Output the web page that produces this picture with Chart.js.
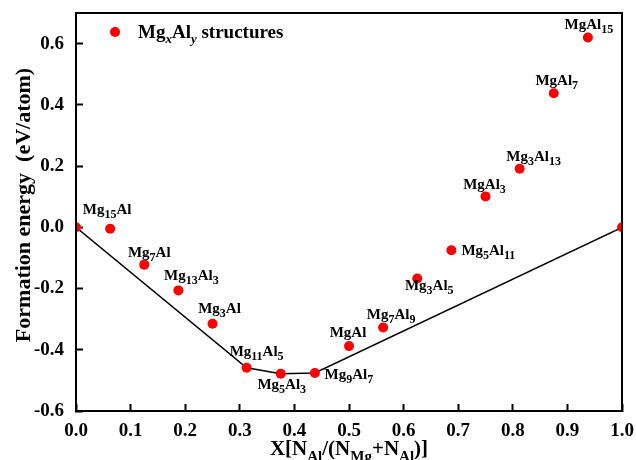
<!DOCTYPE html>
<html>
<head>
<meta charset="utf-8">
<script src="https://cdn.jsdelivr.net/npm/chart.js@4.4.1/dist/chart.umd.min.js"></script>
<style>
  body { margin: 0; background: #fff; }
</style>
</head>
<body>
<canvas id="chart" width="636" height="460"></canvas>
<script>
// Al fraction of each Mg-Al structure and its formation energy (eV/atom)
const fractionAl = [0, 0.0625, 0.125, 0.1875, 0.25, 0.3125, 0.375, 0.4375, 0.5,
  0.5625, 0.625, 0.6875, 0.75, 0.8125, 0.875, 0.9375, 1.0];
const formationEnergy = [0, -0.005, -0.122, -0.206, -0.315, -0.459, -0.478, -0.476, -0.388,
  -0.327, -0.167, -0.075, 0.101, 0.191, 0.438, 0.620, 0];
const structureNames = ['', 'Mg_{15}Al', 'Mg_{7}Al', 'Mg_{13}Al_{3}', 'Mg_{3}Al', 'Mg_{11}Al_{5}',
  'Mg_{5}Al_{3}', 'Mg_{9}Al_{7}', 'MgAl', 'Mg_{7}Al_{9}', 'Mg_{3}Al_{5}', 'Mg_{5}Al_{11}',
  'MgAl_{3}', 'Mg_{3}Al_{13}', 'MgAl_{7}', 'MgAl_{15}', ''];

// convex hull
const hullX = [0, 0.3125, 0.375, 0.4375, 1.0];
const hullE = [0, -0.459, -0.478, -0.476, 0];

const xTickValues = [0, 0.1, 0.2, 0.3, 0.4, 0.5, 0.6, 0.7, 0.8, 0.9, 1.0];
const yTickValues = [-0.6, -0.4, -0.2, 0, 0.2, 0.4, 0.6];

// label offsets from each point (px): [dx of label centre, dy of baseline]
const labelOffsets = [[0, 0], [-3, -15], [5, -8], [13, -10], [7, -11], [10, -12],
  [1, 15], [34, 6], [-1, -9], [8, -8], [12, 12], [37, 5],
  [-1, -7], [14, -8], [3, -8], [1, -8], [0, 0]];

const FONT = '"Liberation Serif", "Times New Roman", serif';

function splitRich(str) {
  const out = [];
  const re = /_\{([^}]*)\}/g;
  let last = 0, m;
  while ((m = re.exec(str))) {
    if (m.index > last) out.push({ t: str.slice(last, m.index), sub: false });
    out.push({ t: m[1], sub: true });
    last = re.lastIndex;
  }
  if (last < str.length) out.push({ t: str.slice(last), sub: false });
  return out;
}
function richFont(p, size, subSize, subItalic) {
  return (p.sub && subItalic ? 'italic ' : '') + 'bold ' + (p.sub ? subSize : size) + 'px ' + FONT;
}
// draws text like "Mg_{15}Al" with subscripts
function drawRich(ctx, str, x, y, size, subSize, subShift, align, subItalic) {
  const parts = splitRich(str);
  let w = 0;
  parts.forEach(p => { ctx.font = richFont(p, size, subSize, subItalic); w += ctx.measureText(p.t).width; });
  let cx = align === 'center' ? x - w / 2 : x;
  ctx.textAlign = 'left';
  ctx.textBaseline = 'alphabetic';
  parts.forEach(p => {
    ctx.font = richFont(p, size, subSize, subItalic);
    ctx.fillText(p.t, cx, p.sub ? y + subShift : y);
    cx += ctx.measureText(p.t).width;
  });
}

// point labels, legend and axis titles
const annotations = {
  id: 'annotations',
  afterDraw(chart) {
    const ctx = chart.ctx;
    const a = chart.chartArea;
    const xs = chart.scales.x, ys = chart.scales.y;
    ctx.save();
    ctx.fillStyle = '#000';
    fractionAl.forEach((fx, i) => {
      if (!structureNames[i]) return;
      const px = xs.getPixelForValue(fx) + labelOffsets[i][0];
      const py = ys.getPixelForValue(formationEnergy[i]) + labelOffsets[i][1];
      drawRich(ctx, structureNames[i], px, py, 15, 12, 4, 'center', false);
    });

    ctx.fillStyle = '#ff0000';
    ctx.beginPath();
    ctx.arc(115, 32, 5, 0, Math.PI * 2);
    ctx.fill();
    ctx.fillStyle = '#000';
    drawRich(ctx, 'Mg_{x}Al_{y} structures', 138, 38, 19, 13, 5, 'left', true);

    drawRich(ctx, 'X[N_{Al}/(N_{Mg}+N_{Al})]', (a.left + a.right) / 2, 455, 21, 15, 6, 'center', false);
    ctx.translate(30, 205);
    ctx.rotate(-Math.PI / 2);
    ctx.font = 'bold 22px ' + FONT;
    ctx.textAlign = 'center';
    ctx.textBaseline = 'alphabetic';
    ctx.fillText('Formation energy  (eV/atom)', 0, 0);
    ctx.restore();

    // box round the plot
    const L = Math.round(a.left), R = Math.round(a.right);
    const T = Math.round(a.top), B = Math.round(a.bottom);
    ctx.save();
    ctx.fillStyle = '#000';
    ctx.fillRect(L - 1, T - 1, R - L + 2, 2);
    ctx.fillRect(L - 1, B - 1, R - L + 2, 2);
    ctx.fillRect(L - 1, T - 1, 2, B - T + 2);
    ctx.fillRect(R - 1, T - 1, 2, B - T + 2);
    ctx.restore();
  }
};

const axisLine = { display: true, color: '#000', width: 2 };
const inwardTicks = { display: true, drawOnChartArea: false, drawTicks: true, tickLength: -7, tickWidth: 2, tickColor: '#000', color: '#000' };

new Chart(document.getElementById('chart'), {
  type: 'scatter',
  data: {
    datasets: [
      {
        label: 'MgxAly structures',
        data: fractionAl.map((x, i) => ({ x: x, y: formationEnergy[i] })),
        backgroundColor: '#ff0000',
        borderWidth: 0,
        pointRadius: 5,
        clip: 0,
        order: 0,
      },
      {
        label: 'hull',
        data: hullX.map((x, i) => ({ x: x, y: hullE[i] })),
        showLine: true,
        borderColor: '#000',
        borderWidth: 1.5,
        pointRadius: 0,
        tension: 0,
        order: 1,
      },
    ],
  },
  options: {
    responsive: false,
    animation: false,
    layout: { padding: { left: 0, right: 14, top: 13, bottom: 0 } },
    scales: {
      x: {
        type: 'linear',
        min: 0,
        max: 1,
        afterBuildTicks: s => { s.ticks = xTickValues.map(v => ({ value: v })); },
        afterFit: s => { s.height = 49; s.paddingLeft = 0; s.paddingRight = 0; },
        grid: inwardTicks,
        border: axisLine,
        ticks: {
          padding: 16,
          color: '#000',
          font: { family: FONT, size: 19, weight: 'bold' },
          callback: v => v.toFixed(1),
        },
      },
      y: {
        type: 'linear',
        min: -0.6,
        max: 0.7,
        afterBuildTicks: s => { s.ticks = yTickValues.map(v => ({ value: v })); },
        afterFit: s => { s.width = 76; s.paddingTop = 0; s.paddingBottom = 0; },
        grid: inwardTicks,
        border: axisLine,
        ticks: {
          padding: 19,
          color: '#000',
          font: { family: FONT, size: 19, weight: 'bold' },
          callback: v => (Math.abs(v) < 1e-9 ? 0 : v).toFixed(1),
        },
      },
      xTop: {
        axis: 'x',
        type: 'linear',
        position: 'top',
        min: 0,
        max: 1,
        afterFit: s => { s.height = 0; s.paddingLeft = 0; s.paddingRight = 0; },
        grid: { display: false },
        ticks: { display: false },
        border: axisLine,
      },
      yRight: {
        axis: 'y',
        type: 'linear',
        position: 'right',
        min: -0.6,
        max: 0.7,
        afterFit: s => { s.width = 0; s.paddingTop = 0; s.paddingBottom = 0; },
        grid: { display: false },
        ticks: { display: false },
        border: axisLine,
      },
    },
    plugins: {
      legend: { display: false },
      tooltip: { enabled: false },
    },
  },
  plugins: [annotations],
});
</script>
</body>
</html>
